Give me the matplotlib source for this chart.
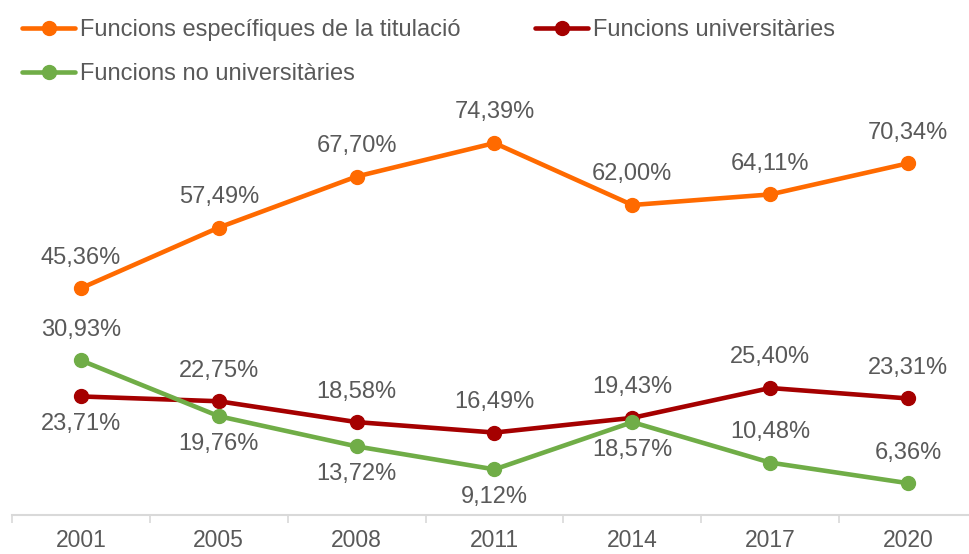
import matplotlib
matplotlib.use("Agg")
import matplotlib.pyplot as plt

plt.rcParams['font.family'] = ['Liberation Sans', 'DejaVu Sans']

anys = ['2001', '2005', '2008', '2011', '2014', '2017', '2020']
especifiques = [45.36, 57.49, 67.70, 74.39, 62.00, 64.11, 70.34]
universitaries = [23.71, 22.75, 18.58, 16.49, 19.43, 25.40, 23.31]
no_universitaries = [30.93, 19.76, 13.72, 9.12, 18.57, 10.48, 6.36]

# label position per point: +1 above, -1 below
pos_esp = [1, 1, 1, 1, 1, 1, 1]
pos_univ = [-1, 1, 1, 1, 1, 1, 1]
pos_no = [1, -1, -1, -1, -1, 1, 1]

series = [
    ('Funcions específiques de la titulació', especifiques, '#FF6A00', pos_esp),
    ('Funcions universitàries', universitaries, '#A50000', pos_univ),
    ('Funcions no universitàries', no_universitaries, '#70AD47', pos_no),
]

text_col = '#595959'
fs = 17

fig = plt.figure(figsize=(9.7, 5.54), dpi=100)
ax = fig.add_axes([12 / 970, 39 / 554, 965 / 970, 425 / 554])

x = list(range(len(anys)))
linies = []
for nom, vals, col, pos in series:
    l, = ax.plot(x, vals, color=col, lw=3.3, marker='o', ms=10, label=nom,
                 solid_capstyle='round')
    linies.append(l)
    for xi, v, p in zip(x, vals, pos):
        txt = f"{v:.2f}%".replace('.', ',')
        off = 22 if p > 0 else -20
        ax.annotate(txt, (xi, v), xytext=(0, off), textcoords='offset points',
                    ha='center', va='center', fontsize=fs, color=text_col)

ax.set_xlim(-0.5, 6.5)
ax.set_ylim(0, 85)
ax.set_yticks([])
ax.set_xticks(x)
ax.set_xticklabels(anys, fontsize=16.5, color=text_col)
ax.set_xticks([i + 0.5 for i in range(-1, len(anys))], minor=True)
ax.tick_params(axis='x', which='major', length=0, pad=10)
ax.tick_params(axis='x', which='minor', length=6, color='#D9D9D9', width=1.2)
for s in ['top', 'right', 'left']:
    ax.spines[s].set_visible(False)
ax.spines['bottom'].set_color('#D9D9D9')
ax.spines['bottom'].set_linewidth(1.5)

# row order: orange, dark red / green
ordre = [linies[0], linies[2], linies[1]]
fig.legend(ordre, [h.get_label() for h in ordre], loc='upper left',
           bbox_to_anchor=(22 / 970, 1 - 19 / 554), ncol=2,
           frameon=False, fontsize=fs, handlelength=2.25, handletextpad=0.2,
           columnspacing=3.17, labelcolor=text_col, borderaxespad=0,
           borderpad=0, labelspacing=0.95)

fig.savefig('out.png', dpi=100)
